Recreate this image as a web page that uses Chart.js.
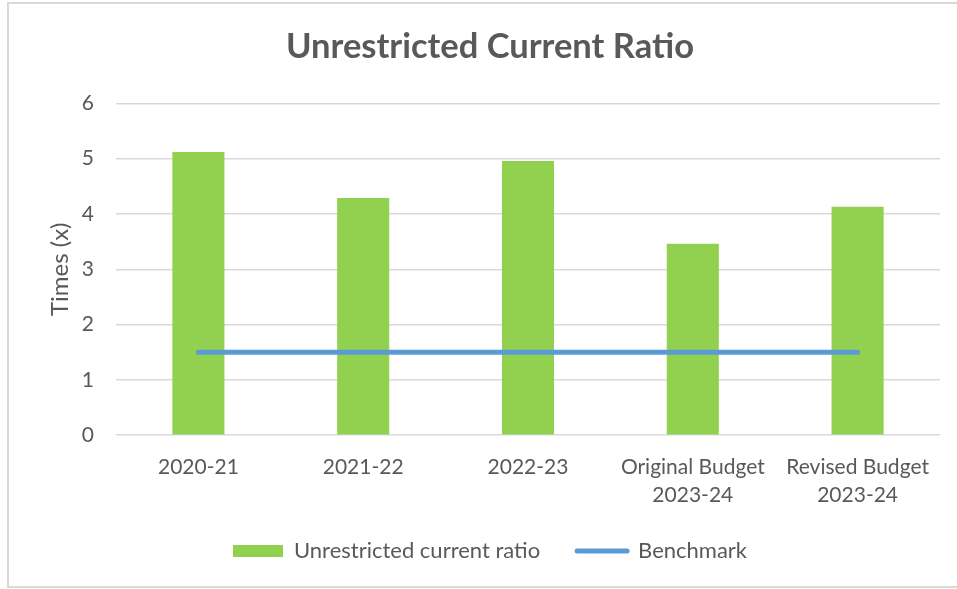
<!DOCTYPE html>
<html>
<head>
<meta charset="utf-8">
<script src="https://cdn.jsdelivr.net/npm/chart.js@4.4.1/dist/chart.umd.min.js"></script>
<style>
  html, body { margin: 0; padding: 0; background: #fff; }
  #wrap { position: relative; width: 957px; height: 589px; overflow: hidden; }
  #frame { position: absolute; left: 7px; top: 2px; width: 980px; height: 586px; border: 2px solid #d9d9d9; box-sizing: border-box; }
  canvas { position: absolute; left: 0; top: 0; }
</style>
</head>
<body>
<div id="wrap">
  <div id="frame"></div>
  <canvas id="c" width="957" height="589"></canvas>
</div>
<script>
const categories = ["2020-21", "2021-22", "2022-23", ["Original Budget", "2023-24"], ["Revised Budget", "2023-24"]];
const ratioValues = [5.12, 4.29, 4.96, 3.46, 4.13];
const benchmarkValues = [1.5, 1.5, 1.5, 1.5, 1.5];
const yTicks = [0, 1, 2, 3, 4, 5, 6];

const TEXT = '#595959';
const FONT = 'Lato';

new Chart(document.getElementById('c'), {
  type: 'bar',
  data: {
    labels: categories,
    datasets: [
      {
        type: 'bar',
        label: 'Unrestricted current ratio',
        data: ratioValues,
        backgroundColor: '#92d050',
        borderWidth: 0,
        barPercentage: 1,
        categoryPercentage: 0.316,
        order: 1
      },
      {
        type: 'line',
        label: 'Benchmark',
        data: benchmarkValues,
        borderColor: '#5b9bd5',
        backgroundColor: '#5b9bd5',
        borderWidth: 5,
        borderCapStyle: 'round',
        pointRadius: 0,
        pointHoverRadius: 0,
        fill: false,
        order: 0
      }
    ]
  },
  options: {
    responsive: false,
    animation: false,
    layout: { padding: { left: 40, right: 17, top: 0, bottom: 17 } },
    plugins: {
      tooltip: { enabled: false },
      title: {
        display: true,
        text: 'Unrestricted Current Ratio',
        color: TEXT,
        font: { family: FONT, size: 34.5, weight: 'bold' },
        padding: { top: 26, bottom: 36 }
      },
      legend: {
        position: 'bottom',
        labels: {
          color: TEXT,
          font: { family: FONT, size: 22 },
          usePointStyle: true,
          pointStyleWidth: 50,
          boxHeight: 12,
          padding: 37,
          generateLabels: (chart) => chart.data.datasets.map((ds, i) => ({
            text: ds.label,
            fillStyle: ds.type === 'line' ? ds.borderColor : ds.backgroundColor,
            strokeStyle: ds.type === 'line' ? ds.borderColor : ds.backgroundColor,
            lineWidth: ds.type === 'line' ? 5 : 0,
            lineCap: 'round',
            pointStyle: ds.type === 'line' ? 'line' : 'rect',
            hidden: false,
            datasetIndex: i,
            fontColor: TEXT
          })),
          sort: (a, b) => a.datasetIndex - b.datasetIndex
        }
      }
    },
    scales: {
      x: {
        grid: { display: false, drawTicks: false },
        border: { display: false },
        afterFit: (scale) => { scale.height = scale.height - 24; },
        ticks: {
          color: TEXT,
          font: { family: FONT, size: 21, lineHeight: 1.33 },
          padding: 18,
          maxRotation: 0,
          autoSkip: false
        }
      },
      y: {
        min: 0,
        max: 6,
        afterBuildTicks: (scale) => { scale.ticks = yTicks.map(v => ({ value: v })); },
        afterFit: (scale) => { scale.width = 76; },
        grid: { color: '#d9d9d9', lineWidth: 1.5, drawTicks: false },
        border: { display: false },
        ticks: {
          color: TEXT,
          font: { family: FONT, size: 21 },
          padding: 22
        },
        title: {
          display: true,
          text: 'Times (x)',
          color: TEXT,
          font: { family: FONT, size: 24 },
          padding: { top: 6 }
        }
      }
    }
  }
});
</script>
</body>
</html>
